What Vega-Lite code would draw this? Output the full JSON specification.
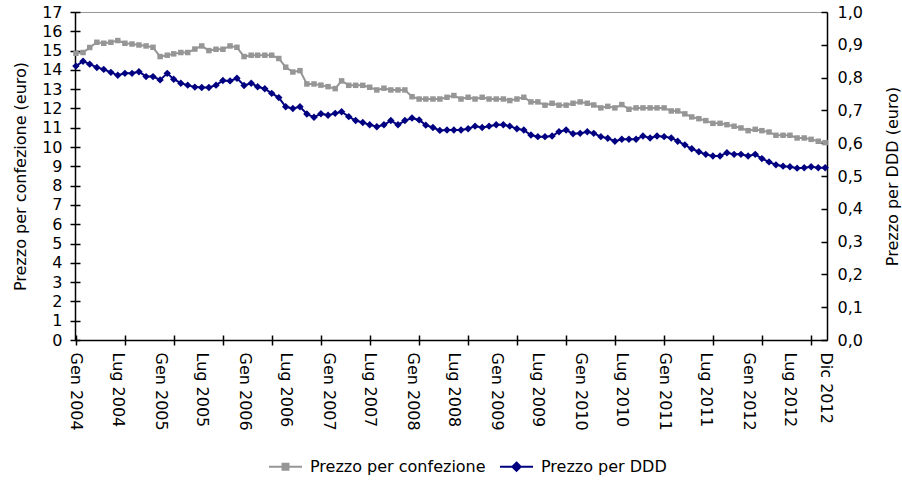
{
  "$schema": "https://vega.github.io/schema/vega-lite/v6.json",
  "width": 752,
  "height": 328,
  "autosize": "none",
  "padding": {"left": 75, "top": 12, "right": 75, "bottom": 142},
  "background": "white",
  "config": {
    "font": "DejaVu Sans",
    "view": {"stroke": "#999999", "strokeWidth": 1},
    "axis": {
      "grid": false,
      "domainColor": "#000000",
      "domainWidth": 1.5,
      "tickColor": "#000000",
      "tickWidth": 1.5,
      "labelColor": "#000000",
      "titleColor": "#000000",
      "labelFont": "DejaVu Sans",
      "titleFont": "DejaVu Sans",
      "labelFontSize": 16,
      "titleFontSize": 16,
      "titleFontWeight": "normal"
    }
  },
  "data": {
    "values": [
      {"mese": "2004-01-01", "confezione": 14.86, "ddd": 0.835},
      {"mese": "2004-02-01", "confezione": 14.90, "ddd": 0.850},
      {"mese": "2004-03-01", "confezione": 15.16, "ddd": 0.841},
      {"mese": "2004-04-01", "confezione": 15.43, "ddd": 0.831},
      {"mese": "2004-05-01", "confezione": 15.38, "ddd": 0.825},
      {"mese": "2004-06-01", "confezione": 15.43, "ddd": 0.816},
      {"mese": "2004-07-01", "confezione": 15.52, "ddd": 0.807},
      {"mese": "2004-08-01", "confezione": 15.38, "ddd": 0.813},
      {"mese": "2004-09-01", "confezione": 15.34, "ddd": 0.813},
      {"mese": "2004-10-01", "confezione": 15.29, "ddd": 0.818},
      {"mese": "2004-11-01", "confezione": 15.24, "ddd": 0.803},
      {"mese": "2004-12-01", "confezione": 15.17, "ddd": 0.803},
      {"mese": "2005-01-01", "confezione": 14.69, "ddd": 0.793},
      {"mese": "2005-02-01", "confezione": 14.76, "ddd": 0.813},
      {"mese": "2005-03-01", "confezione": 14.83, "ddd": 0.795},
      {"mese": "2005-04-01", "confezione": 14.90, "ddd": 0.783},
      {"mese": "2005-05-01", "confezione": 14.90, "ddd": 0.777},
      {"mese": "2005-06-01", "confezione": 15.08, "ddd": 0.771},
      {"mese": "2005-07-01", "confezione": 15.24, "ddd": 0.770},
      {"mese": "2005-08-01", "confezione": 15.00, "ddd": 0.770},
      {"mese": "2005-09-01", "confezione": 15.07, "ddd": 0.777},
      {"mese": "2005-10-01", "confezione": 15.07, "ddd": 0.791},
      {"mese": "2005-11-01", "confezione": 15.24, "ddd": 0.790},
      {"mese": "2005-12-01", "confezione": 15.17, "ddd": 0.798},
      {"mese": "2006-01-01", "confezione": 14.69, "ddd": 0.776},
      {"mese": "2006-02-01", "confezione": 14.76, "ddd": 0.783},
      {"mese": "2006-03-01", "confezione": 14.76, "ddd": 0.772},
      {"mese": "2006-04-01", "confezione": 14.76, "ddd": 0.766},
      {"mese": "2006-05-01", "confezione": 14.76, "ddd": 0.752},
      {"mese": "2006-06-01", "confezione": 14.59, "ddd": 0.739},
      {"mese": "2006-07-01", "confezione": 14.14, "ddd": 0.711},
      {"mese": "2006-08-01", "confezione": 13.89, "ddd": 0.706},
      {"mese": "2006-09-01", "confezione": 13.96, "ddd": 0.711},
      {"mese": "2006-10-01", "confezione": 13.27, "ddd": 0.689},
      {"mese": "2006-11-01", "confezione": 13.27, "ddd": 0.679},
      {"mese": "2006-12-01", "confezione": 13.21, "ddd": 0.690},
      {"mese": "2007-01-01", "confezione": 13.13, "ddd": 0.685},
      {"mese": "2007-02-01", "confezione": 13.03, "ddd": 0.691},
      {"mese": "2007-03-01", "confezione": 13.43, "ddd": 0.696},
      {"mese": "2007-04-01", "confezione": 13.20, "ddd": 0.681},
      {"mese": "2007-05-01", "confezione": 13.20, "ddd": 0.669},
      {"mese": "2007-06-01", "confezione": 13.20, "ddd": 0.663},
      {"mese": "2007-07-01", "confezione": 13.10, "ddd": 0.656},
      {"mese": "2007-08-01", "confezione": 12.96, "ddd": 0.650},
      {"mese": "2007-09-01", "confezione": 13.05, "ddd": 0.656},
      {"mese": "2007-10-01", "confezione": 12.96, "ddd": 0.669},
      {"mese": "2007-11-01", "confezione": 12.96, "ddd": 0.656},
      {"mese": "2007-12-01", "confezione": 12.96, "ddd": 0.669},
      {"mese": "2008-01-01", "confezione": 12.61, "ddd": 0.677},
      {"mese": "2008-02-01", "confezione": 12.49, "ddd": 0.671},
      {"mese": "2008-03-01", "confezione": 12.49, "ddd": 0.655},
      {"mese": "2008-04-01", "confezione": 12.49, "ddd": 0.648},
      {"mese": "2008-05-01", "confezione": 12.49, "ddd": 0.639},
      {"mese": "2008-06-01", "confezione": 12.58, "ddd": 0.640},
      {"mese": "2008-07-01", "confezione": 12.67, "ddd": 0.640},
      {"mese": "2008-08-01", "confezione": 12.49, "ddd": 0.640},
      {"mese": "2008-09-01", "confezione": 12.58, "ddd": 0.644},
      {"mese": "2008-10-01", "confezione": 12.49, "ddd": 0.652},
      {"mese": "2008-11-01", "confezione": 12.58, "ddd": 0.648},
      {"mese": "2008-12-01", "confezione": 12.49, "ddd": 0.652},
      {"mese": "2009-01-01", "confezione": 12.49, "ddd": 0.656},
      {"mese": "2009-02-01", "confezione": 12.49, "ddd": 0.656},
      {"mese": "2009-03-01", "confezione": 12.41, "ddd": 0.652},
      {"mese": "2009-04-01", "confezione": 12.49, "ddd": 0.644},
      {"mese": "2009-05-01", "confezione": 12.58, "ddd": 0.640},
      {"mese": "2009-06-01", "confezione": 12.34, "ddd": 0.625},
      {"mese": "2009-07-01", "confezione": 12.34, "ddd": 0.620},
      {"mese": "2009-08-01", "confezione": 12.17, "ddd": 0.620},
      {"mese": "2009-09-01", "confezione": 12.27, "ddd": 0.622},
      {"mese": "2009-10-01", "confezione": 12.17, "ddd": 0.635},
      {"mese": "2009-11-01", "confezione": 12.17, "ddd": 0.640},
      {"mese": "2009-12-01", "confezione": 12.27, "ddd": 0.629},
      {"mese": "2010-01-01", "confezione": 12.34, "ddd": 0.630},
      {"mese": "2010-02-01", "confezione": 12.27, "ddd": 0.635},
      {"mese": "2010-03-01", "confezione": 12.18, "ddd": 0.630},
      {"mese": "2010-04-01", "confezione": 12.03, "ddd": 0.620},
      {"mese": "2010-05-01", "confezione": 12.11, "ddd": 0.615},
      {"mese": "2010-06-01", "confezione": 12.03, "ddd": 0.606},
      {"mese": "2010-07-01", "confezione": 12.20, "ddd": 0.612},
      {"mese": "2010-08-01", "confezione": 11.96, "ddd": 0.612},
      {"mese": "2010-09-01", "confezione": 12.03, "ddd": 0.612},
      {"mese": "2010-10-01", "confezione": 12.03, "ddd": 0.622},
      {"mese": "2010-11-01", "confezione": 12.03, "ddd": 0.616},
      {"mese": "2010-12-01", "confezione": 12.03, "ddd": 0.622},
      {"mese": "2011-01-01", "confezione": 12.03, "ddd": 0.620},
      {"mese": "2011-02-01", "confezione": 11.87, "ddd": 0.616},
      {"mese": "2011-03-01", "confezione": 11.87, "ddd": 0.606},
      {"mese": "2011-04-01", "confezione": 11.72, "ddd": 0.595},
      {"mese": "2011-05-01", "confezione": 11.56, "ddd": 0.583},
      {"mese": "2011-06-01", "confezione": 11.47, "ddd": 0.574},
      {"mese": "2011-07-01", "confezione": 11.37, "ddd": 0.566},
      {"mese": "2011-08-01", "confezione": 11.23, "ddd": 0.561},
      {"mese": "2011-09-01", "confezione": 11.23, "ddd": 0.561},
      {"mese": "2011-10-01", "confezione": 11.16, "ddd": 0.571},
      {"mese": "2011-11-01", "confezione": 11.08, "ddd": 0.566},
      {"mese": "2011-12-01", "confezione": 10.99, "ddd": 0.566},
      {"mese": "2012-01-01", "confezione": 10.85, "ddd": 0.561},
      {"mese": "2012-02-01", "confezione": 10.92, "ddd": 0.566},
      {"mese": "2012-03-01", "confezione": 10.85, "ddd": 0.553},
      {"mese": "2012-04-01", "confezione": 10.78, "ddd": 0.543},
      {"mese": "2012-05-01", "confezione": 10.61, "ddd": 0.534},
      {"mese": "2012-06-01", "confezione": 10.61, "ddd": 0.530},
      {"mese": "2012-07-01", "confezione": 10.61, "ddd": 0.528},
      {"mese": "2012-08-01", "confezione": 10.47, "ddd": 0.524},
      {"mese": "2012-09-01", "confezione": 10.47, "ddd": 0.525},
      {"mese": "2012-10-01", "confezione": 10.40, "ddd": 0.528},
      {"mese": "2012-11-01", "confezione": 10.30, "ddd": 0.525},
      {"mese": "2012-12-01", "confezione": 10.23, "ddd": 0.525}
    ]
  },
  "layer": [
    {
      "mark": {"type": "line", "strokeWidth": 2},
      "encoding": {
        "x": {
          "field": "mese", "type": "temporal",
          "scale": {"type": "utc", "domain": [{"year": 2003, "month": 12, "date": 28, "utc": true}, {"year": 2012, "month": 12, "date": 9, "utc": true}]},
          "axis": {
            "orient": "bottom", "title": null, "ticks": false, "domain": true,
            "labelAngle": 90, "labelAlign": "left", "labelBaseline": "middle", "labelPadding": 12,
            "labelFlush": false, "labelOverlap": false,
            "values": [
              {"year": 2004, "month": 1, "date": 1, "utc": true}, {"year": 2004, "month": 7, "date": 1, "utc": true},
              {"year": 2005, "month": 1, "date": 1, "utc": true}, {"year": 2005, "month": 7, "date": 1, "utc": true},
              {"year": 2006, "month": 1, "date": 1, "utc": true}, {"year": 2006, "month": 7, "date": 1, "utc": true},
              {"year": 2007, "month": 1, "date": 1, "utc": true}, {"year": 2007, "month": 7, "date": 1, "utc": true},
              {"year": 2008, "month": 1, "date": 1, "utc": true}, {"year": 2008, "month": 7, "date": 1, "utc": true},
              {"year": 2009, "month": 1, "date": 1, "utc": true}, {"year": 2009, "month": 7, "date": 1, "utc": true},
              {"year": 2010, "month": 1, "date": 1, "utc": true}, {"year": 2010, "month": 7, "date": 1, "utc": true},
              {"year": 2011, "month": 1, "date": 1, "utc": true}, {"year": 2011, "month": 7, "date": 1, "utc": true},
              {"year": 2012, "month": 1, "date": 1, "utc": true}, {"year": 2012, "month": 7, "date": 1, "utc": true},
              {"year": 2012, "month": 12, "date": 1, "utc": true}
            ],
            "labelExpr": "['Gen','Feb','Mar','Apr','Mag','Giu','Lug','Ago','Set','Ott','Nov','Dic'][utcmonth(datum.value)] + ' ' + utcyear(datum.value)"
          }
        },
        "y": {
          "field": "confezione", "type": "quantitative",
          "scale": {"domain": [0, 17], "nice": false},
          "axis": {
            "orient": "left", "title": "Prezzo per confezione (euro)",
            "values": [0,1,2,3,4,5,6,7,8,9,10,11,12,13,14,15,16,17],
            "tickSize": 5, "labelPadding": 8, "titlePadding": 13
          }
        },
        "color": {
          "datum": "Prezzo per confezione",
          "scale": {"domain": ["Prezzo per confezione", "Prezzo per DDD"], "range": ["#969696", "#000080"]},
          "legend": {
            "orient": "none", "legendX": 193, "legendY": 437, "direction": "horizontal", "title": null,
            "symbolSize": 1089, "labelFontSize": 16, "labelColor": "#000000", "labelOffset": 7,
            "labelLimit": 400, "columnPadding": 10,
            "encode": {
              "symbols": {
                "update": {
                  "shape": {"signal": "datum.value === 'Prezzo per DDD' ? 'M-1,0H1M0,-0.25L0.25,0L0,0.25L-0.25,0Z' : 'M-1,0H1M-0.18,-0.18H0.18V0.18H-0.18Z'"},
                  "fill": {"signal": "datum.value === 'Prezzo per DDD' ? '#000080' : '#969696'"},
                  "stroke": {"signal": "datum.value === 'Prezzo per DDD' ? '#000080' : '#969696'"},
                  "strokeWidth": {"value": 2},
                  "opacity": {"value": 1}
                }
              }
            }
          }
        }
      }
    },
    {
      "mark": {"type": "point", "shape": "square", "filled": true, "size": 30, "color": "#969696", "opacity": 1},
      "encoding": {
        "x": {
          "field": "mese", "type": "temporal",
          "axis": {
            "orient": "bottom", "title": null, "labels": false, "domain": false, "tickSize": 5,
            "values": [
              {"year": 2004, "month": 1, "date": 1, "utc": true}, {"year": 2004, "month": 8, "date": 1, "utc": true},
              {"year": 2005, "month": 3, "date": 1, "utc": true}, {"year": 2005, "month": 10, "date": 1, "utc": true},
              {"year": 2006, "month": 5, "date": 1, "utc": true}, {"year": 2006, "month": 12, "date": 1, "utc": true},
              {"year": 2007, "month": 7, "date": 1, "utc": true}, {"year": 2008, "month": 2, "date": 1, "utc": true},
              {"year": 2008, "month": 9, "date": 1, "utc": true}, {"year": 2009, "month": 4, "date": 1, "utc": true},
              {"year": 2009, "month": 11, "date": 1, "utc": true}, {"year": 2010, "month": 6, "date": 1, "utc": true},
              {"year": 2011, "month": 1, "date": 1, "utc": true}, {"year": 2011, "month": 8, "date": 1, "utc": true},
              {"year": 2012, "month": 3, "date": 1, "utc": true}, {"year": 2012, "month": 10, "date": 1, "utc": true}
            ]
          }
        },
        "y": {
          "field": "confezione", "type": "quantitative",
          "scale": {"domain": [0, 17], "nice": false},
          "axis": {
            "orient": "left", "title": null, "labels": false, "domain": false, "tickSize": -5,
            "values": [0,1,2,3,4,5,6,7,8,9,10,11,12,13,14,15,16,17]
          }
        }
      }
    },
    {
      "mark": {"type": "line", "strokeWidth": 2},
      "encoding": {
        "x": {
          "field": "mese", "type": "temporal",
          "axis": {
            "orient": "bottom", "title": null, "labels": false, "domain": false, "tickSize": -5,
            "values": [
              {"year": 2004, "month": 1, "date": 1, "utc": true}, {"year": 2004, "month": 8, "date": 1, "utc": true},
              {"year": 2005, "month": 3, "date": 1, "utc": true}, {"year": 2005, "month": 10, "date": 1, "utc": true},
              {"year": 2006, "month": 5, "date": 1, "utc": true}, {"year": 2006, "month": 12, "date": 1, "utc": true},
              {"year": 2007, "month": 7, "date": 1, "utc": true}, {"year": 2008, "month": 2, "date": 1, "utc": true},
              {"year": 2008, "month": 9, "date": 1, "utc": true}, {"year": 2009, "month": 4, "date": 1, "utc": true},
              {"year": 2009, "month": 11, "date": 1, "utc": true}, {"year": 2010, "month": 6, "date": 1, "utc": true},
              {"year": 2011, "month": 1, "date": 1, "utc": true}, {"year": 2011, "month": 8, "date": 1, "utc": true},
              {"year": 2012, "month": 3, "date": 1, "utc": true}, {"year": 2012, "month": 10, "date": 1, "utc": true}
            ]
          }
        },
        "y": {
          "field": "ddd", "type": "quantitative",
          "scale": {"domain": [0, 1], "nice": false},
          "axis": {
            "orient": "right", "title": "Prezzo per DDD (euro)", "titleAngle": -90,
            "values": [0, 0.1, 0.2, 0.3, 0.4, 0.5, 0.6, 0.7, 0.8, 0.9, 1.0],
            "format": ".1f", "labelExpr": "replace(datum.label, '.', ',')",
            "tickSize": -6, "labelPadding": 16, "titlePadding": 38
          }
        },
        "color": {"datum": "Prezzo per DDD"}
      }
    },
    {
      "mark": {"type": "point", "shape": "diamond", "filled": true, "size": 55, "color": "#000080", "opacity": 1},
      "encoding": {
        "x": {"field": "mese", "type": "temporal", "axis": null},
        "y": {
          "field": "ddd", "type": "quantitative",
          "scale": {"domain": [0, 1], "nice": false},
          "axis": null
        }
      }
    }
  ],
  "resolve": {
    "scale": {"y": "independent"},
    "axis": {"x": "independent", "y": "independent"}
  }
}
